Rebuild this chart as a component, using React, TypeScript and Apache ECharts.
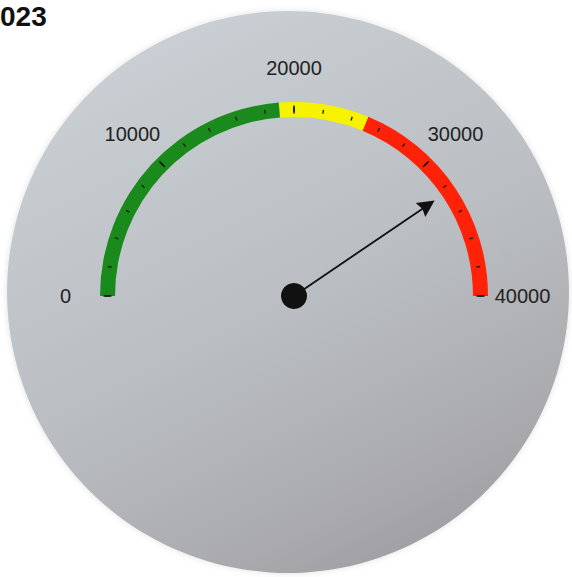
import React, { useEffect, useRef } from "react";
import * as echarts from "echarts";

const titleText = "023";
const axisMin = 0;
const axisMax = 40000;
const tickLabels = ["0", "10000", "20000", "30000", "40000"];
const bandLimits = [19000, 25000, 40000];
const bandColors = ["#1a8a1c", "#f7f200", "#ff2208"];
const gaugeValue = [32400];

export default function App() {
  const ref = useRef<HTMLDivElement>(null);
  useEffect(() => {
    if (!ref.current) return;
    const chart = echarts.init(ref.current, null, { renderer: "svg" });
    const span = axisMax - axisMin;
    const option = {
      animation: false,
      backgroundColor: "#ffffff",
      title: {
        text: titleText,
        left: 0,
        top: 0,
        padding: [2, 0, 0, 0],
        textStyle: {
          fontFamily: "Liberation Sans, Arial, sans-serif",
          fontSize: 28,
          fontWeight: "bold",
          color: "#111",
        },
      },
      graphic: [
        {
          type: "circle",
          z: -10,
          shape: { cx: 288, cy: 292, r: 281 },
          style: {
            fill: {
              type: "linear",
              x: 0.25,
              y: 0,
              x2: 0.75,
              y2: 1,
              colorStops: [
                { offset: 0, color: "#cad0d5" },
                { offset: 0.5, color: "#bbbfc3" },
                { offset: 0.85, color: "#aaaaae" },
                { offset: 1, color: "#9d9da1" },
              ],
            },
            shadowBlur: 6,
            shadowColor: "rgba(0,0,0,0.12)",
          },
        },
      ],
      series: [
        {
          type: "gauge",
          center: [294, 296],
          radius: 194,
          startAngle: 180,
          endAngle: 0,
          min: axisMin,
          max: axisMax,
          splitNumber: tickLabels.length - 1,
          axisLine: {
            lineStyle: {
              width: 15,
              color: bandLimits.map((v, i) => [(v - axisMin) / span, bandColors[i]]),
            },
          },
          splitLine: {
            length: 8,
            distance: -11.5,
            lineStyle: { color: "#1a1a1a", width: 1.6 },
          },
          axisTick: {
            splitNumber: 5,
            length: 4,
            distance: -9.5,
            lineStyle: { color: "#1a1a1a", width: 1.3 },
          },
          axisLabel: {
            distance: -31,
            formatter: (v: number) => {
              const idx = Math.round(((v - axisMin) / span) * (tickLabels.length - 1));
              return "{c|" + tickLabels[idx] + "}";
            },
            rich: {
              c: {
                width: 0,
                lineHeight: 0,
                align: "center",
                fontFamily: "Liberation Sans, Arial, sans-serif",
                fontSize: 20,
                color: "#222",
              },
            },
          },
          pointer: {
            show: true,
            icon: "path://M8 0 L15.5 17 L8.8 15 L8.8 170 L7.2 170 L7.2 15 L0.5 17 Z",
            length: 170,
            width: 17,
            offsetCenter: [0, 0],
            itemStyle: { color: "#111" },
          },
          anchor: {
            show: true,
            showAbove: true,
            size: 26,
            icon: "circle",
            itemStyle: { color: "#111" },
          },
          progress: { show: false },
          title: { show: false },
          detail: { show: false },
          data: gaugeValue.map((v) => ({ value: v })),
        },
      ],
    };
    chart.setOption(option as any);
    return () => chart.dispose();
  }, []);
  return (
    <div
      ref={ref}
      style={{ position: "fixed", left: 0, top: 0, width: 572, height: 577 }}
    />
  );
}
